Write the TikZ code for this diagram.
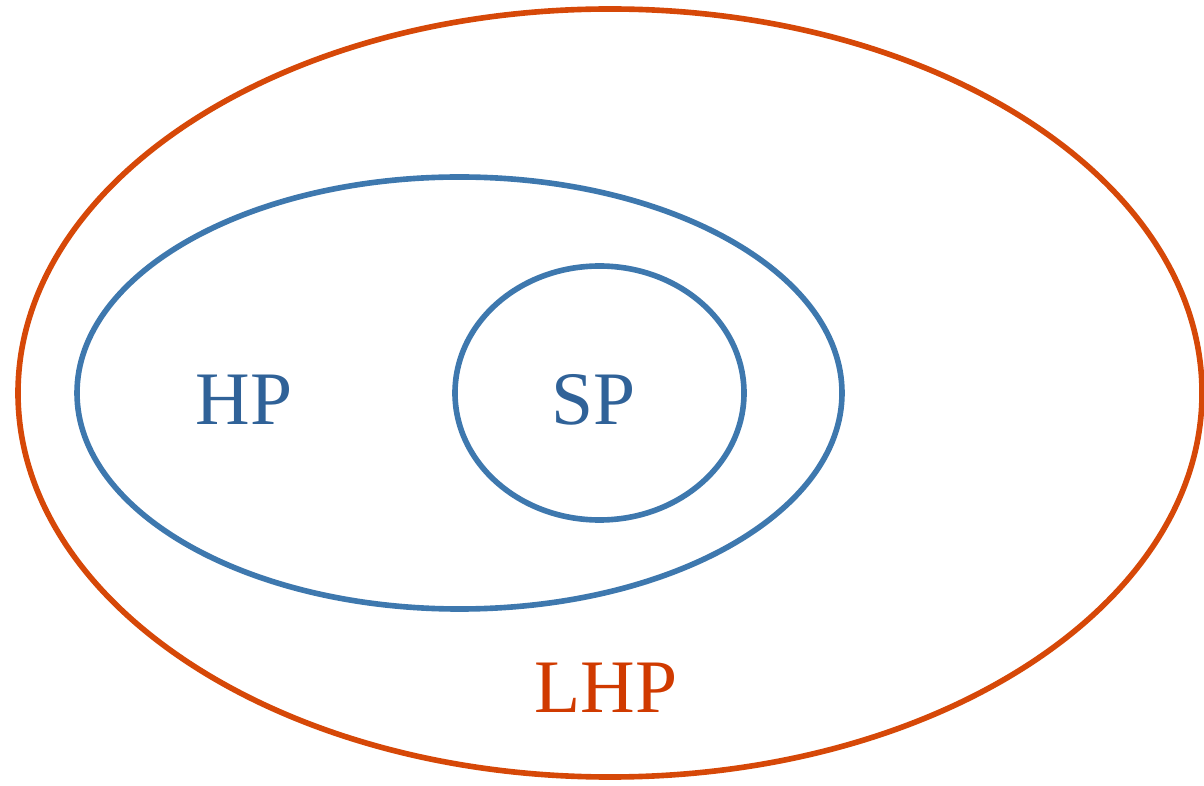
\documentclass[tikz,border=0pt]{standalone}
\usepackage{fontspec}
\setmainfont{Liberation Serif}
\usepackage{xcolor}
\usetikzlibrary{shapes.geometric}
\definecolor{lhporange}{RGB}{214,72,8}
\definecolor{lhptext}{RGB}{208,58,0}
\definecolor{hpblue}{RGB}{62,120,174}
\definecolor{hptext}{RGB}{48,98,152}

\begin{document}
\begin{tikzpicture}[
    set/.style={ellipse, draw, line width=3.2pt, inner sep=0pt, outer sep=0pt},
    lbl/.style={inner sep=0pt, font=\fontsize{43}{43}\selectfont}]
\useasboundingbox (0,0) rectangle (24.08,15.7);
% nested sets
\node[set, draw=lhporange, minimum width=23.68cm, minimum height=15.36cm] (lhp) at (12.2,7.84) {};
\node[set, draw=hpblue, minimum width=15.3cm, minimum height=8.64cm] (hp) at (9.19,7.84) {};
\node[set, draw=hpblue, minimum width=5.78cm, minimum height=5.08cm] (sp) at (11.99,7.84) {};
% labels
\node[lbl, text=hptext] (hplbl) at (4.88,7.70) {HP};
\node[lbl, text=hptext] (splbl) at (11.87,7.70) {SP};
\node[lbl, text=lhptext] (lhplbl) at (12.12,1.94) {LHP};
\end{tikzpicture}
\end{document}
